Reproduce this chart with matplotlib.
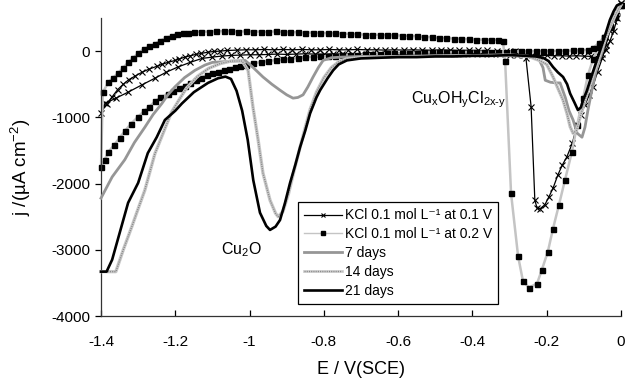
import matplotlib
matplotlib.use("Agg")
import matplotlib.pyplot as plt
from matplotlib.lines import Line2D

plt.rcParams['font.family'] = ['Liberation Sans', 'DejaVu Sans']
plt.rcParams['mathtext.fontset'] = 'custom'
plt.rcParams['mathtext.rm'] = 'Liberation Sans'
plt.rcParams['mathtext.it'] = 'Liberation Sans:italic'
plt.rcParams['axes.unicode_minus'] = False

# KCl 0.1 mol/L at 0.1 V  (cathodic sweep then return sweep)
kcl01_fwd_E = [0.0, -0.01, -0.02, -0.03, -0.04, -0.05, -0.06, -0.08, -0.10, -0.12,
               -0.14, -0.16, -0.18, -0.20, -0.22, -0.24, -0.26, -0.28, -0.30,
               -0.325, -0.35, -0.375, -0.40, -0.425, -0.45, -0.475, -0.50, -0.525, -0.55,
               -0.575, -0.60, -0.625, -0.65, -0.675, -0.70, -0.725, -0.75, -0.775, -0.80,
               -0.825, -0.85, -0.875, -0.90, -0.925, -0.95, -0.975, -1.00, -1.025, -1.05,
               -1.075, -1.10,
               -1.128, -1.16, -1.193, -1.225, -1.255, -1.29, -1.327, -1.36, -1.389, -1.40]
kcl01_fwd_j = [720, 500, 300, 150, 20, -50, -80, -80, -75, -70,
               -75, -70, -70, -65, -70, -65, -60, -60, -55,
               -50, -50, -45, -50, -45, -45, -40, -45, -40, -40,
               -45, -40, -40, -45, -40, -40, -45, -45, -40, -45,
               -45, -40, -45, -50, -45, -50, -55, -55, -60, -65,
               -75, -90,
               -110, -170, -240, -320, -410, -510, -620, -710, -790, -930]
kcl01_rev_E = [-1.385, -1.37, -1.355, -1.34, -1.325, -1.309, -1.29, -1.27, -1.25, -1.236,
               -1.22, -1.20, -1.19, -1.174, -1.16, -1.145, -1.13, -1.112, -1.095, -1.08, -1.06,
               -1.035, -1.01, -0.985, -0.96, -0.935, -0.91, -0.885, -0.86, -0.835, -0.81,
               -0.785, -0.76, -0.735, -0.71, -0.685, -0.66, -0.635, -0.61, -0.585, -0.56,
               -0.535, -0.51, -0.485, -0.46, -0.435, -0.41, -0.385, -0.36, -0.335, -0.31,
               -0.285, -0.27,
               -0.256, -0.242, -0.232, -0.226, -0.218, -0.205, -0.194, -0.183, -0.17, -0.158,
               -0.146, -0.131, -0.118, -0.108, -0.097, -0.086, -0.076, -0.063, -0.05, -0.04,
               -0.03, -0.02, -0.01, 0.0]
kcl01_rev_j = [-800, -690, -580, -500, -430, -380, -320, -270, -230, -200,
               -170, -140, -120, -90, -70, -50, -35, -15, -5, 0, 10,
               15, 20, 20, 25, 20, 25, 20, 25, 20, 20,
               25, 20, 20, 25, 20, 20, 15, 20, 15, 20,
               15, 15, 20, 15, 10, 15, 10, 10, 5, 5,
               0, -10,
               -100, -840, -2250, -2370, -2380, -2320, -2200, -2070, -1870, -1720,
               -1600, -1390, -1110, -960, -810, -670, -540, -310, -100, 100,
               300, 450, 600, 720]

# KCl 0.1 mol/L at 0.2 V
kcl02_fwd_E = [0.0, -0.015, -0.03, -0.045, -0.06, -0.075, -0.09,
               -0.11, -0.13, -0.15, -0.17, -0.19, -0.21, -0.23, -0.25, -0.27, -0.29,
               -0.31, -0.33, -0.35, -0.37, -0.39, -0.41, -0.43, -0.45, -0.47, -0.49,
               -0.51, -0.53, -0.55, -0.57, -0.59, -0.61, -0.63, -0.65, -0.67, -0.69,
               -0.71, -0.73, -0.75, -0.77, -0.79, -0.81, -0.83, -0.85, -0.87, -0.89,
               -0.91, -0.93, -0.95, -0.97, -0.99, -1.01,
               -1.025, -1.04, -1.055, -1.07, -1.085, -1.10, -1.115, -1.13, -1.145, -1.16,
               -1.175, -1.19, -1.205, -1.22,
               -1.24, -1.255, -1.27, -1.285, -1.30, -1.32, -1.335, -1.35, -1.365, -1.38,
               -1.39, -1.40]
kcl02_fwd_j = [700, 520, 360, 220, 120, 50, 20,
               10, 10, 5, 5, 0, 0, 0, -5, -5, -5,
               -10, -10, -10, -10, -10, -15, -15, -15, -15, -20,
               -20, -20, -25, -25, -30, -30, -35, -40, -45, -50,
               -55, -60, -65, -70, -75, -80, -85, -95, -105, -115,
               -125, -135, -150, -165, -185, -205,
               -225, -245, -265, -285, -310, -335, -365, -400, -440, -480,
               -520, -560, -600, -640,
               -700, -760, -840, -910, -990, -1100, -1200, -1310, -1420, -1520,
               -1640, -1750]
kcl02_rev_E = [-1.395, -1.38, -1.367, -1.354, -1.34, -1.327, -1.313, -1.30, -1.285, -1.27,
               -1.255, -1.24, -1.225, -1.21, -1.195, -1.18, -1.165, -1.15, -1.13,
               -1.11, -1.09, -1.07, -1.05, -1.03, -1.01, -0.99, -0.97, -0.95, -0.93,
               -0.91, -0.89, -0.87, -0.85, -0.83, -0.81, -0.79, -0.77, -0.75, -0.73,
               -0.71, -0.69, -0.67, -0.65, -0.63, -0.61, -0.59, -0.57, -0.55, -0.53,
               -0.51, -0.49, -0.47, -0.45, -0.43, -0.41, -0.39, -0.37, -0.35, -0.33,
               -0.318, -0.312, -0.296, -0.277, -0.264, -0.248, -0.226, -0.213, -0.197, -0.183,
               -0.167, -0.151, -0.132, -0.118, -0.102, -0.089, -0.075, -0.06, -0.045, -0.03,
               -0.015, 0.0]
kcl02_rev_j = [-620, -470, -400, -330, -250, -170, -100, -30, 30, 70,
               110, 160, 200, 230, 255, 270, 280, 290, 295,
               295, 300, 300, 300, 295, 300, 295, 295, 290, 300,
               290, 285, 285, 280, 280, 275, 270, 270, 265, 260,
               255, 250, 250, 245, 240, 240, 235, 230, 225, 215,
               210, 200, 195, 190, 185, 180, 175, 175, 170, 170,
               160, -150, -2150, -3100, -3470, -3570, -3510, -3300, -3030, -2680,
               -2320, -1950, -1520, -1110, -710, -360, -120, 60, 220, 380,
               540, 700]

# aged samples
d7_E = [-1.40, -1.37, -1.336, -1.31, -1.282, -1.26, -1.236, -1.22, -1.201, -1.175,
        -1.147, -1.12, -1.10, -1.07, -1.04, -1.012, -0.99, -0.964, -0.94, -0.918,
        -0.90, -0.883, -0.87, -0.856, -0.843, -0.829, -0.815, -0.802, -0.78, -0.75,
        -0.70, -0.60, -0.50, -0.40, -0.30, -0.25, -0.223, -0.21, -0.204, -0.19,
        -0.175, -0.164, -0.15, -0.14, -0.129, -0.118, -0.105, -0.097, -0.089, -0.077,
        -0.065, -0.05, -0.038, -0.02, 0.0]
d7_j = [-2220, -1900, -1640, -1380, -1150, -960, -790, -660, -540, -400,
        -290, -210, -170, -160, -150, -140, -250, -390, -500, -590,
        -660, -710, -700, -660, -540, -390, -250, -140, -100, -90,
        -80, -80, -70, -70, -70, -80, -100, -250, -440, -470,
        -480, -480, -700, -900, -1040, -1240, -1300, -1150, -890, -550,
        -240, 0, 270, 500, 700]

d14_E = [-1.40, -1.36, -1.34, -1.317, -1.30, -1.282, -1.255, -1.23, -1.21, -1.187,
         -1.17, -1.14, -1.11, -1.08, -1.05, -1.02, -1.004, -0.991, -0.977, -0.964,
         -0.945, -0.93, -0.923, -0.91, -0.895, -0.88, -0.864, -0.85, -0.837, -0.82,
         -0.80, -0.78, -0.76, -0.74, -0.70, -0.60, -0.50, -0.40, -0.30, -0.25,
         -0.22, -0.20, -0.183, -0.17, -0.156, -0.145, -0.137, -0.129, -0.12, -0.11,
         -0.10, -0.089, -0.075, -0.06, -0.045, -0.03, -0.015, 0.0]
d14_j = [-3330, -3330, -3000, -2650, -2380, -2100, -1550, -1200, -920, -710,
         -560, -380, -260, -190, -150, -150, -290, -840, -1340, -1840,
         -2250, -2450, -2500, -2420, -2150, -1800, -1450, -1150, -880, -620,
         -400, -250, -160, -120, -100, -90, -80, -70, -60, -80,
         -140, -200, -390, -560, -740, -950, -1140, -1240, -1200, -1000,
         -800, -600, -350, -100, 150, 350, 550, 700]

d21_E = [-1.40, -1.385, -1.37, -1.35, -1.327, -1.30, -1.274, -1.25, -1.228, -1.20,
         -1.182, -1.15, -1.112, -1.085, -1.065, -1.05, -1.035, -1.02, -1.005, -0.99,
         -0.972, -0.955, -0.945, -0.93, -0.918, -0.905, -0.891, -0.877, -0.864, -0.85,
         -0.837, -0.82, -0.81, -0.79, -0.775, -0.76, -0.738, -0.70, -0.65, -0.60,
         -0.55, -0.50, -0.45, -0.40, -0.35, -0.30, -0.26, -0.23, -0.21, -0.195,
         -0.183, -0.17, -0.156, -0.145, -0.137, -0.125, -0.116, -0.108, -0.102, -0.092,
         -0.083, -0.07, -0.057, -0.045, -0.03, -0.02, -0.011, 0.0]
d21_j = [-3330, -3330, -3150, -2750, -2290, -1990, -1540, -1300, -1040, -900,
         -790, -620, -480, -410, -385, -420, -600, -900, -1340, -1950,
         -2440, -2640, -2700, -2650, -2550, -2300, -1990, -1720, -1450, -1200,
         -940, -700, -590, -410, -290, -200, -140, -110, -100, -90,
         -90, -80, -80, -70, -70, -60, -70, -80, -100, -150,
         -240, -320, -390, -500, -640, -780, -890, -850, -740, -600,
         -440, -220, 0, 200, 470, 600, 690, 720]

labels = ['KCl 0.1 mol L⁻¹ at 0.1 V', 'KCl 0.1 mol L⁻¹ at 0.2 V',
          '7 days', '14 days', '21 days']
x_ticks = [-1.4, -1.2, -1.0, -0.8, -0.6, -0.4, -0.2, 0.0]
x_ticklabels = ['-1.4', '-1.2', '-1', '-0.8', '-0.6', '-0.4', '-0.2', '0']
y_ticks = [-4000, -3000, -2000, -1000, 0]

fig = plt.figure(figsize=(6.25, 3.8), dpi=100)
ax = fig.add_axes([0.1616, 0.1684, 0.832, 0.7842])

ax.plot(kcl01_fwd_E + kcl01_rev_E, kcl01_fwd_j + kcl01_rev_j, color='black', lw=0.9,
        marker='x', ms=4, mew=0.8, clip_on=False, zorder=2)
ax.plot(kcl02_fwd_E + kcl02_rev_E, kcl02_fwd_j + kcl02_rev_j, color='#c4c4c4', lw=1.8,
        marker='s', ms=3.6, mfc='black', mec='black', clip_on=False, zorder=2)
ax.plot(d7_E, d7_j, color='#969696', lw=2.0, clip_on=False, zorder=3)
ax.plot(d14_E, d14_j, color='#c8c8c8', lw=2.4, clip_on=False, zorder=3)
ax.plot(d14_E, d14_j, color='#8a8a8a', lw=1.0, ls=(0, (0.8, 0.8)), clip_on=False, zorder=3)
ax.plot(d21_E, d21_j, color='black', lw=1.9, clip_on=False, zorder=4)

# legend proxies (thinner, like the original legend keys)
p1 = Line2D([], [], color='black', lw=0.9, marker='x', ms=3.5, mew=0.8)
p2 = Line2D([], [], color='#c4c4c4', lw=1.0, marker='s', ms=3.2, mfc='black', mec='black')
p3 = Line2D([], [], color='#969696', lw=2.0)
p4a = Line2D([], [], color='#cfcfcf', lw=2.0)
p4b = Line2D([], [], color='#8a8a8a', lw=1.0, ls=(0, (0.8, 0.8)))
p5 = Line2D([], [], color='black', lw=1.9)

ax.set_xlim(-1.4, 0)
ax.set_ylim(-4000, 500)
ax.set_xticks(x_ticks)
ax.set_xticklabels(x_ticklabels)
ax.set_yticks(y_ticks)
ax.set_yticklabels([str(v) for v in y_ticks])
ax.tick_params(axis='x', direction='in', length=4, width=0.9, labelsize=11, pad=14)
ax.tick_params(axis='y', direction='out', length=4, width=0.9, labelsize=11, pad=4)
for s in ['top', 'right']:
    ax.spines[s].set_visible(False)
for s in ['left', 'bottom']:
    ax.spines[s].set_linewidth(0.9)
    ax.spines[s].set_color('#333333')

ax.set_xlabel('E / V(SCE)', fontsize=13, labelpad=8)
ax.set_ylabel('j /(µA cm$^{-2}$)', fontsize=13.5, labelpad=13)

ax.text(-1.023, -3000, 'Cu$_2$O', fontsize=11.5, ha='center', va='center')
ax.text(-0.437, -740, 'Cu$_{\\rm x}$OH$_{\\rm y}$Cl$_{\\rm 2x‐y}$', fontsize=11.5,
        ha='center', va='center')

leg = ax.legend([p1, p2, p3, (p4a, p4b), p5], labels, loc='lower left',
                bbox_to_anchor=(0.379, 0.04), fontsize=10, frameon=True, fancybox=False,
                edgecolor='black', framealpha=1, handlelength=2.7, handletextpad=0.2,
                labelspacing=0.35, borderpad=0.45, borderaxespad=0)
leg.get_frame().set_linewidth(0.9)

fig.savefig('out.png', dpi=100)
